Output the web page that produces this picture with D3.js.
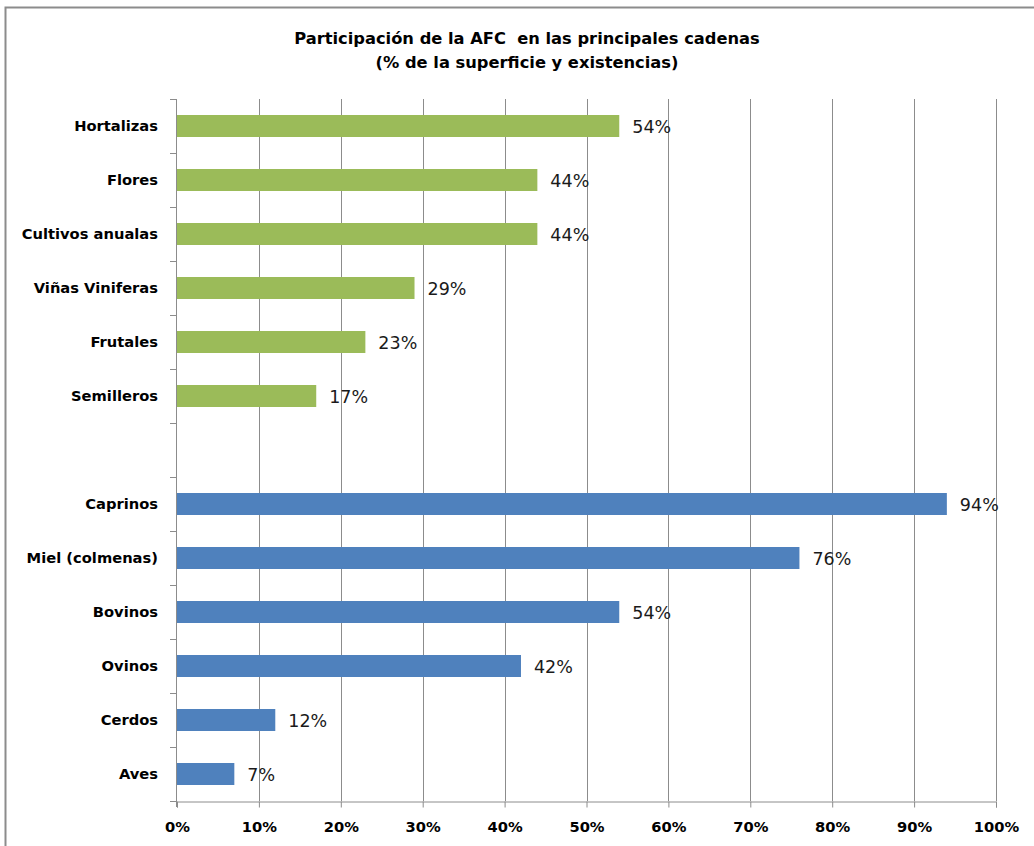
<!DOCTYPE html>
<html>
<head>
<meta charset="utf-8">
<script src="https://cdn.jsdelivr.net/npm/d3@7"></script>
<style>
  html, body { margin: 0; padding: 0; background: #fff; }
  svg { display: block; }
</style>
</head>
<body>
<svg id="chart" width="1034" height="846"></svg>
<script>
// Chains, top to bottom; the empty entry leaves a gap between crops and livestock
const categories = ["Hortalizas", "Flores", "Cultivos anualas", "Viñas Viniferas", "Frutales", "Semilleros",
                    "", "Caprinos", "Miel (colmenas)", "Bovinos", "Ovinos", "Cerdos", "Aves"];
const cropValues = [54, 44, 44, 29, 23, 17];
const livestockValues = [94, 76, 54, 42, 12, 7];
const xTicks = [0, 10, 20, 30, 40, 50, 60, 70, 80, 90, 100];
const titleLines = ["Participación de la AFC  en las principales cadenas", "(% de la superficie y existencias)"];

const cropColor = "#9BBB59";
const livestockColor = "#4F81BD";

const rows = [
  ...categories.slice(0, 6).map((c, i) => ({ cat: c, value: cropValues[i], color: cropColor })),
  ...categories.slice(7).map((c, i) => ({ cat: c, value: livestockValues[i], color: livestockColor }))
];

const boldFont = "DejaVu Sans, Verdana, sans-serif";

const svg = d3.select("#chart");
const margin = { left: 177, right: 1034 - 996, top: 99, bottom: 846 - 801 };
const W = 1034, H = 846;

// outer frame (extends past the right and bottom edges)
svg.append("rect")
  .attr("x", 5.5).attr("y", 7.5)
  .attr("width", W + 10).attr("height", H + 10)
  .attr("fill", "#fff").attr("stroke", "#8c8c8c").attr("stroke-width", 2);

const x = d3.scaleLinear().domain([0, 100]).range([margin.left, W - margin.right]);
const y = d3.scaleBand().domain(categories.map((c, i) => i)).range([margin.top, H - margin.bottom]).paddingInner(0).paddingOuter(0);

// title
svg.append("g").selectAll("text").data(titleLines).join("text")
  .attr("x", 527).attr("y", (d, i) => 44 + i * 24)
  .attr("text-anchor", "middle")
  .attr("font-family", boldFont)
  .attr("font-weight", "bold").attr("font-size", 16.3)
  .attr("fill", "#000")
  .style("white-space", "pre")
  .text(d => d);

// vertical gridlines
svg.append("g").selectAll("line").data(xTicks.slice(1)).join("line")
  .attr("x1", d => Math.round(x(d)) + 0.5).attr("x2", d => Math.round(x(d)) + 0.5)
  .attr("y1", margin.top).attr("y2", H - margin.bottom)
  .attr("stroke", "#8c8c8c").attr("stroke-width", 1);

// bars with value labels
const barH = 22;
const bars = svg.append("g");
rows.forEach(r => {
  const idx = categories.indexOf(r.cat);
  const cy = y(idx) + y.bandwidth() / 2;
  bars.append("rect")
    .attr("x", x(0)).attr("y", cy - barH / 2)
    .attr("width", x(r.value) - x(0)).attr("height", barH)
    .attr("fill", r.color);
  bars.append("text")
    .attr("x", x(r.value) + 13).attr("y", cy + 6.5)
    .attr("font-family", "DejaVu Sans, sans-serif")
    .attr("font-size", 17.5).attr("fill", "#1a1a1a")
    .text(r.value + "%");
});

// x axis
const xAxis = svg.append("g")
  .attr("transform", `translate(0,${H - margin.bottom + 0.5})`)
  .call(d3.axisBottom(x).tickValues(xTicks).tickFormat(d => d + "%").tickSize(6).tickPadding(14));
xAxis.select(".domain").attr("stroke", "#8c8c8c");
xAxis.selectAll(".tick line").attr("stroke", "#8c8c8c");
xAxis.selectAll(".tick text")
  .attr("font-family", boldFont)
  .attr("font-weight", "bold").attr("font-size", 14.7).attr("fill", "#000");

// y axis: category labels, tick marks at band boundaries
const yAxisG = svg.append("g");
yAxisG.append("line")
  .attr("x1", margin.left - 0.5).attr("x2", margin.left - 0.5)
  .attr("y1", margin.top).attr("y2", H - margin.bottom + 6)
  .attr("stroke", "#8c8c8c");
const bounds = d3.range(categories.length + 1).map(i => margin.top + i * y.bandwidth());
yAxisG.selectAll(".bt").data(bounds).join("line")
  .attr("class", "bt")
  .attr("x1", margin.left - 7).attr("x2", margin.left)
  .attr("y1", d => Math.round(d) + 0.5).attr("y2", d => Math.round(d) + 0.5)
  .attr("stroke", "#8c8c8c");
yAxisG.selectAll(".lab").data(categories).join("text")
  .attr("class", "lab")
  .attr("x", 158)
  .attr("y", (d, i) => y(i) + y.bandwidth() / 2 + 5)
  .attr("text-anchor", "end")
  .attr("font-family", boldFont)
  .attr("font-weight", "bold").attr("font-size", 14.7).attr("fill", "#000")
  .text(d => d);
</script>
</body>
</html>
